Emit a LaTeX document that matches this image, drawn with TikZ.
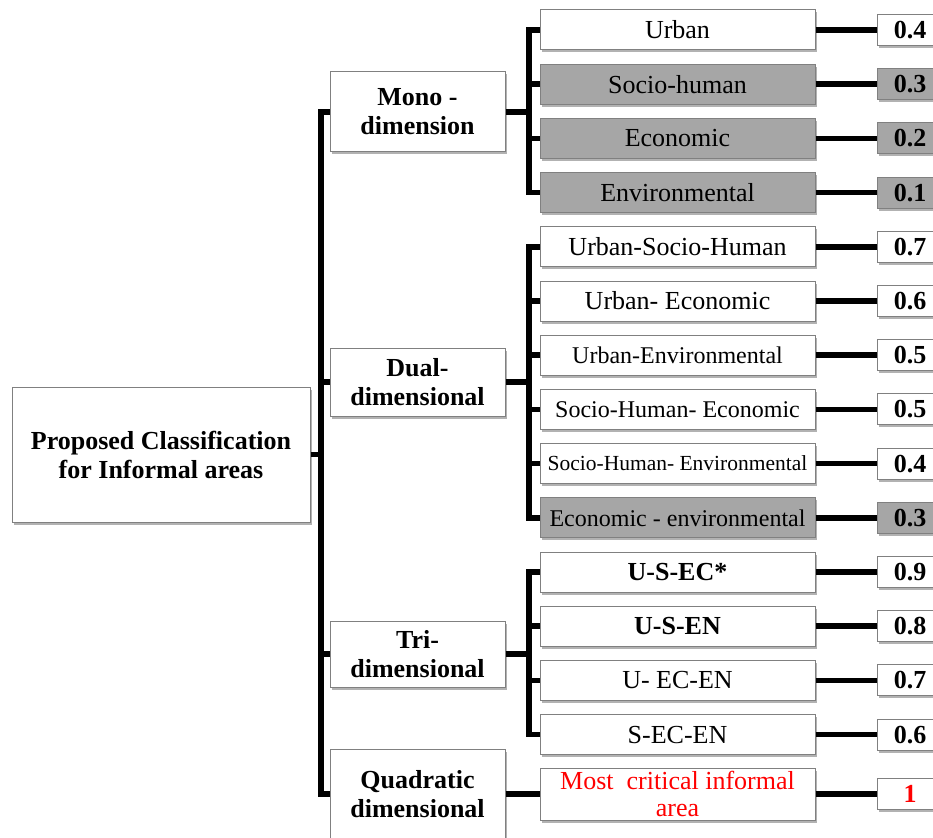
\documentclass[tikz,border=0pt]{standalone}
\usepackage{fontspec}
\setmainfont{Liberation Serif}
\usetikzlibrary{shadows}
\definecolor{boxgrey}{RGB}{166,166,166}
\definecolor{edgegrey}{RGB}{128,128,128}
\tikzset{
 box/.style={draw=edgegrey, line width=1pt, fill=white, inner sep=0pt, align=center,
  font=\fontsize{26}{29}\selectfont,
  drop shadow={shadow xshift=1.5pt, shadow yshift=-2.5pt, opacity=.3, fill=black}},
 item/.style={box, minimum width=275, minimum height=40},
 val/.style={box, font=\fontsize{26}{29}\selectfont\bfseries, minimum width=66, minimum height=31},
 cat/.style={box, font=\fontsize{26}{29}\selectfont\bfseries, minimum width=175},
 whitebox/.style={},
 greyed/.style={fill=boxgrey},
 smalltext/.style={font=\fontsize{24}{26}\selectfont},
 tinytext/.style={font=\fontsize{21.5}{24}\selectfont},
 greysmall/.style={greyed, smalltext},
 boldtext/.style={font=\fontsize{26}{29}\selectfont\bfseries},
 redtext/.style={text=red},
 link/.style={black, line width=5.5pt}
}
\begin{document}
\begin{tikzpicture} [x=1pt, y=-1pt]
\useasboundingbox (0,0) rectangle (933,837);
\node[box, font=\fontsize{26}{29}\selectfont\bfseries, minimum width=298, minimum height=135] (root) at (161,454.5) {Proposed Classification\\for Informal areas};
\node[cat, minimum height=80] (mono) at (417.5,112) {Mono -\\dimension};
\node[cat, minimum height=68] (dual) at (417.5,382) {Dual-\\dimensional};
\node[cat, minimum height=66] (tri) at (417.5,654) {Tri-\\dimensional};
\node[cat, minimum height=90] (quad) at (417.5,794) {Quadratic\\dimensional};
\foreach \n/\txt/\look/\vlook/\val in {0/Urban/whitebox/whitebox/0.4,
  1/Socio-human/greyed/greyed/0.3, 2/Economic/greyed/greyed/0.2,
  3/Environmental/greyed/greyed/0.1, 4/Urban-Socio-Human/whitebox/whitebox/0.7,
  5/Urban- Economic/whitebox/whitebox/0.6, 6/Urban-Environmental/smalltext/whitebox/0.5,
  7/Socio-Human- Economic/smalltext/whitebox/0.5,
  8/Socio-Human- Environmental/tinytext/whitebox/0.4,
  9/Economic - environmental/greysmall/greyed/0.3, 10/U-S-EC*/boldtext/whitebox/0.9,
  11/U-S-EN/boldtext/whitebox/0.8, 12/U- EC-EN/whitebox/whitebox/0.7,
  13/S-EC-EN/whitebox/whitebox/0.6} {
 \node[item, \look] (i\n) at (677.5, 30+54.2*\n) {\txt};
 \node[val, \vlook] (v\n) at (910, 30+54.2*\n) {\val};
 \draw[link] (i\n) -- (v\n);
}
\node[item, redtext, minimum height=52, font=\fontsize{26}{27}\selectfont] (crit) at (677.5,794) {Most\ \ critical informal\\area};
\node[val, redtext] (vcrit) at (910,794) {1};
\draw[link] (crit) -- (vcrit);
\coordinate (trunk) at (321,0);
\coordinate (bus) at (529,0);
\draw[link] (root.east) -- (root.east -| trunk);
\draw[link] (mono.west) -- (mono.west -| trunk) -- (quad.west -| trunk) -- (quad.west);
\foreach \c in {dual, tri} \draw[link] (\c.west) -- (\c.west -| trunk);
\foreach \c/\a/\b in {mono/0/3, dual/4/9, tri/10/13} {
 \draw[link] (\c.east) -- (\c.east -| bus);
 \draw[link] (i\a.west) -- (i\a.west -| bus) -- (i\b.west -| bus) -- (i\b.west);
 \foreach \n in {\a,...,\b} \draw[link] (i\n.west) -- (i\n.west -| bus);
}
\draw[link] (quad.east) -- (crit.west);
\end{tikzpicture}
\end{document}
